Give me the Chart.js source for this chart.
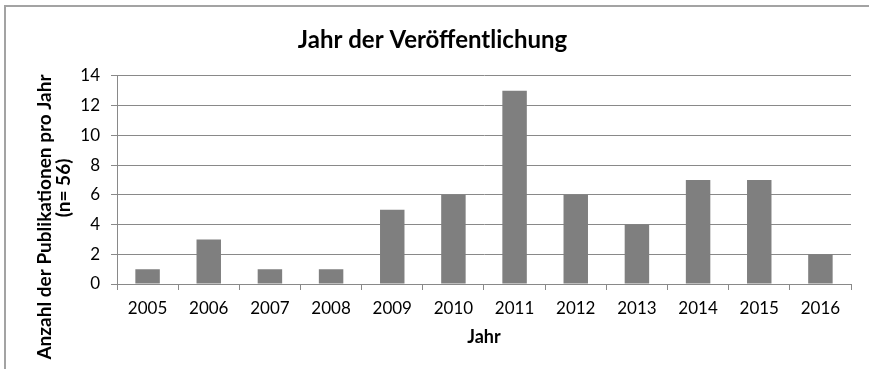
<!DOCTYPE html>
<html>
<head>
<meta charset="utf-8">
<script src="https://cdn.jsdelivr.net/npm/chart.js@4/dist/chart.umd.min.js"></script>
<style>
  html, body { margin: 0; padding: 0; background: #ffffff; }
  #wrap { position: relative; width: 869px; height: 369px; overflow: hidden; }
  #frame { position: absolute; left: 4px; top: 5px; width: 900px; height: 400px;
           border-left: 2px solid #a3a3a3; border-top: 2px solid #a3a3a3; box-sizing: border-box; }
  canvas { position: absolute; left: 0; top: 0; }
</style>
</head>
<body>
<div id="wrap">
  <div id="frame"></div>
  <canvas id="chart" width="869" height="369"></canvas>
</div>
<script>
// Publications per year
const years = ['2005', '2006', '2007', '2008', '2009', '2010', '2011', '2012', '2013', '2014', '2015', '2016'];
const publications = [1, 3, 1, 1, 5, 6, 13, 6, 4, 7, 7, 2];
const yTicks = [0, 2, 4, 6, 8, 10, 12, 14];

const chartTitle = 'Jahr der Veröffentlichung';
const xTitle = 'Jahr';
const yTitle = ['Anzahl der Publikationen pro Jahr', '(n= 56)'];

const lineGray = '#898989';
const fontFamily = 'Lato, "Open Sans", sans-serif';

// Vertical centre (canvas px) of each line of the rotated y-axis title
const Y_TITLE_CENTERS = [217, 188];

// Draws the y-axis title line by line, each rotated and centred on its own position
function drawRotatedTitle() {
  const opts = this.options.title;
  const ctx = this.ctx;
  const size = opts.font.size;
  const lh = size * opts.font.lineHeight;
  const lines = Array.isArray(opts.text) ? opts.text : [opts.text];
  ctx.save();
  ctx.fillStyle = opts.color;
  ctx.font = `${opts.font.weight} ${size}px ${opts.font.family}`;
  ctx.textAlign = 'center';
  ctx.textBaseline = 'middle';
  lines.forEach((line, i) => {
    const x = this.left + opts.padding.top + lh * (i + 0.5);
    const y = Y_TITLE_CENTERS[i];
    ctx.save();
    ctx.translate(x, y);
    ctx.rotate(-Math.PI / 2);
    ctx.fillText(line, 0, 0);
    ctx.restore();
  });
  ctx.restore();
}

new Chart(document.getElementById('chart'), {
  type: 'bar',
  data: {
    labels: years,
    datasets: [{
      data: publications,
      backgroundColor: '#7f7f7f',
      borderWidth: 0,
      barPercentage: 0.4,
      categoryPercentage: 1.0
    }]
  },
  options: {
    responsive: false,
    animation: false,
    layout: { padding: { left: 14, right: 18, top: 0, bottom: 0 } },
    plugins: {
      legend: { display: false },
      tooltip: { enabled: false },
      title: {
        display: true,
        text: chartTitle,
        color: '#000000',
        font: { family: fontFamily, size: 24, weight: 'bold' },
        padding: { top: 26, bottom: 21 }
      }
    },
    scales: {
      x: {
        grid: { drawOnChartArea: false, drawTicks: true, tickLength: 6, color: lineGray, lineWidth: 1 },
        border: { display: true, color: lineGray, width: 1 },
        ticks: { color: '#000000', font: { family: fontFamily, size: 17 }, padding: 8, maxRotation: 0 },
        title: {
          display: true, text: xTitle, color: '#000000',
          font: { family: fontFamily, size: 18, weight: 'bold' },
          padding: { top: 0, bottom: 21 }
        },
        afterFit: (s) => { s.height = 85; }
      },
      y: {
        min: 0, max: 14,
        afterBuildTicks: (s) => { s.ticks = yTicks.map(v => ({ value: v })); },
        grid: { drawOnChartArea: true, drawTicks: true, tickLength: 6, color: lineGray, lineWidth: 1 },
        border: { display: true, color: lineGray, width: 1 },
        ticks: { color: '#000000', font: { family: fontFamily, size: 17 }, padding: 11 },
        title: {
          display: true, text: yTitle, color: '#000000',
          font: { family: fontFamily, size: 19, weight: 'bold', lineHeight: 1.0 },
          padding: { top: 21, bottom: 0 }
        },
        afterFit: (s) => {
          s.width = 103;
          s.drawTitle = drawRotatedTitle;
        }
      }
    }
  }
});
</script>
</body>
</html>
